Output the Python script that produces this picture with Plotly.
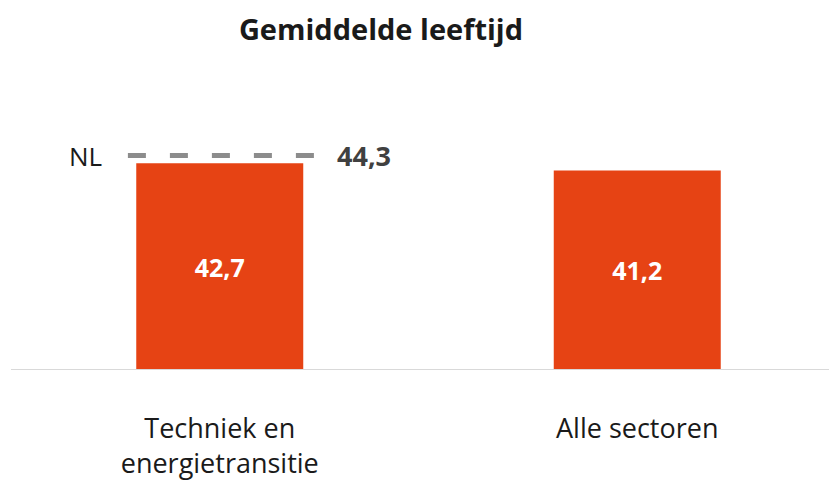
import plotly.graph_objects as go

# data
categories = ["Techniek en<br>energietransitie", "Alle sectoren"]
ages = [42.7, 41.2]
nl_label = "NL"
nl_value = 44.3

bar_color = "#E64314"
font_family = "Open Sans"


def nl_fmt(v):
    return f"{v:.1f}".replace(".", ",")


x_pos = list(range(len(categories)))

fig = go.Figure()

fig.add_trace(go.Bar(
    x=x_pos, y=ages, width=0.4,
    marker=dict(color=bar_color, line=dict(width=0)),
    text=[nl_fmt(v) for v in ages],
    textposition="inside", insidetextanchor="middle",
    textfont=dict(family=font_family, size=25, color="white", weight="bold"),
    showlegend=False, hoverinfo="skip",
))

# dashed reference line for NL average
fig.add_trace(go.Scatter(
    x=[-0.22, 0.245], y=[nl_value, nl_value], mode="lines",
    line=dict(color="#8C8C8C", width=5, dash="18px,24px"),
    showlegend=False, hoverinfo="skip",
))

fig.add_annotation(x=-0.322, y=nl_value, text=nl_label, showarrow=False,
                   xanchor="center", yanchor="middle",
                   font=dict(family=font_family, size=26, color="#1a1a1a"))
fig.add_annotation(x=0.346, y=nl_value, text=nl_fmt(nl_value), showarrow=False,
                   xanchor="center", yanchor="middle",
                   font=dict(family=font_family, size=27, color="#404040", weight="bold"))

fig.update_layout(
    width=837, height=484,
    margin=dict(l=3, r=0, t=120, b=122),
    paper_bgcolor="white", plot_bgcolor="white",
    title=dict(text="<b>Gemiddelde leeftijd</b>", x=0.4456, xanchor="center",
               yref="container", y=0.9545, yanchor="middle",
               font=dict(family=font_family, size=29, color="#1a1a1a")),
    xaxis=dict(range=[-0.5, 1.4976], tickvals=x_pos, ticktext=categories,
               showgrid=False, zeroline=False, showline=False, ticks="",
               ticklabelstandoff=40,
               tickfont=dict(family=font_family, size=27, color="#1a1a1a")),
    yaxis=dict(range=[0, 50], visible=False, showgrid=False, zeroline=False),
    shapes=[dict(type="line", xref="paper", yref="y", x0=0, x1=1, y0=0, y1=0,
                 line=dict(color="#D9D9D9", width=2))],
)

fig.write_html("out.html")
